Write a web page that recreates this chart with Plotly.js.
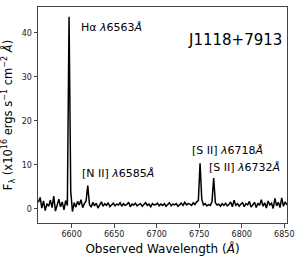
<!DOCTYPE html>
<html>
<head>
<meta charset="utf-8">
<script src="https://cdn.plot.ly/plotly-3.0.1.min.js"></script>
<style>html,body{margin:0;padding:0;background:#fff;}#chart{width:299px;height:260px;}</style>
</head>
<body>
<div id="chart"></div>
<script>
// Observed wavelength (Angstrom)
const wavelength = [
6561,6563,6565,6567,6569,6571,6573,6575,6577,6579,
6581,6583,6585,6587,6589,6591,6593,6595,6597,6599,
6601,6603,6605,6607,6609,6611,6613,6615,6617,6619,
6621,6623,6625,6627,6629,6631,6633,6635,6637,6639,
6641,6643,6645,6647,6649,6651,6653,6655,6657,6659,
6661,6663,6665,6667,6669,6671,6673,6675,6677,6679,
6681,6683,6685,6687,6689,6691,6693,6695,6697,6699,
6701,6703,6705,6707,6709,6711,6713,6715,6717,6719,
6721,6723,6725,6727,6729,6731,6733,6735,6737,6739,
6741,6743,6745,6747,6749,6751,6753,6755,6757,6759,
6761,6763,6765,6767,6769,6771,6773,6775,6777,6779,
6781,6783,6785,6787,6789,6791,6793,6795,6797,6799,
6801,6803,6805,6807,6809,6811,6813,6815,6817,6819,
6821,6823,6825,6827,6829,6831,6833,6835,6837,6839,
6841,6843,6845,6847,6849,6851,6853
];
// Flux (x1e16 ergs s^-1 cm^-2 A^-1)
const flux = [
1.5,2.6,0.2,1.8,-0.4,1.2,0.6,2.0,0.3,2.9,
-0.5,1.1,2.2,0.5,1.6,-0.2,1.9,0.8,43.7,4.0,
-0.6,1.4,0.4,1.7,0.9,2.1,0.3,1.2,1.8,5.3,
1.0,0.4,1.5,0.7,1.3,0.2,1.1,1.6,0.6,1.2,
0.8,1.4,0.5,1.0,1.3,0.7,1.1,0.9,1.4,0.6,
1.2,0.8,1.0,1.5,0.5,1.1,0.9,1.3,0.7,1.0,
1.2,0.6,0.9,1.4,0.8,1.1,0.5,1.2,0.9,1.0,
1.3,0.7,1.1,0.8,1.2,0.6,1.0,1.4,0.7,1.1,
0.9,1.2,0.6,1.0,1.3,0.8,1.5,0.9,1.2,1.1,
0.8,1.4,1.0,1.6,1.9,10.4,2.2,0.9,1.2,0.7,
1.0,0.8,1.6,7.0,1.4,0.9,1.1,0.6,1.2,0.8,
1.3,0.7,1.0,1.6,0.5,2.0,0.8,1.2,0.6,1.1,
1.4,0.5,1.2,0.9,1.7,0.4,1.1,1.5,0.3,1.3,
0.8,2.1,0.6,1.4,0.2,1.8,0.9,1.3,0.1,2.4,
0.7,1.5,0.3,2.5,0.6,1.6,0.9
];
const objectName = "J1118+7913";
const lineLabels = ["H&#945; <i>&#955;</i>6563<i>&#197;</i>", "[N II] <i>&#955;</i>6585<i>&#197;</i>", "[S II] <i>&#955;</i>6718<i>&#197;</i>", "[S II] <i>&#955;</i>6732<i>&#197;</i>"];
const labelX = [6609, 6610, 6739, 6759];
const labelY = [41.2, 8.0, 13.3, 9.5];
const xTicks = [6600, 6650, 6700, 6750, 6800, 6850];
const yTicks = [0, 10, 20, 30, 40];

const font = "DejaVu Sans, sans-serif";
const annotations = lineLabels.map((t, i) => ({
  x: labelX[i], y: labelY[i], xref: "x", yref: "y", text: t,
  showarrow: false, xanchor: "left", yanchor: "middle",
  font: {family: font, size: 11, color: "#000"}
}));
annotations.push({
  x: 0.79, y: 0.845, xref: "paper", yref: "paper", text: objectName,
  showarrow: false, xanchor: "center", yanchor: "middle",
  font: {family: font, size: 15, color: "#000"}
});

const axisCommon = {
  showgrid: false, zeroline: false, showline: true, mirror: true,
  linecolor: "#444", linewidth: 1, ticks: "outside", ticklen: 3.5,
  tickcolor: "#444", tickfont: {family: font, size: 8, color: "#222"}
};

Plotly.newPlot("chart", [{
  x: wavelength, y: flux, type: "scatter", mode: "lines",
  line: {color: "#000", width: 1.5}, hoverinfo: "skip"
}], {
  width: 299, height: 260,
  margin: {l: 38, r: 12, t: 7, b: 37},
  paper_bgcolor: "#fff", plot_bgcolor: "#fff",
  showlegend: false,
  xaxis: Object.assign({}, axisCommon, {
    range: [6560.5, 6853.2], tickvals: xTicks,
    title: {text: "Observed Wavelength (<i>&#197;</i>)", font: {family: font, size: 12, color: "#000"}, standoff: 6}
  }),
  yaxis: Object.assign({}, axisCommon, {
    range: [-3.2, 45.9], tickvals: yTicks,
    title: {text: "F<sub>&#955;</sub> (x10<sup>16</sup> ergs s<sup>&#8722;1</sup> cm<sup>&#8722;2</sup> <i>&#197;</i>)", font: {family: font, size: 11.5, color: "#000"}, standoff: 6}
  }),
  annotations: annotations
}, {staticPlot: true, displayModeBar: false});
</script>
</body>
</html>
